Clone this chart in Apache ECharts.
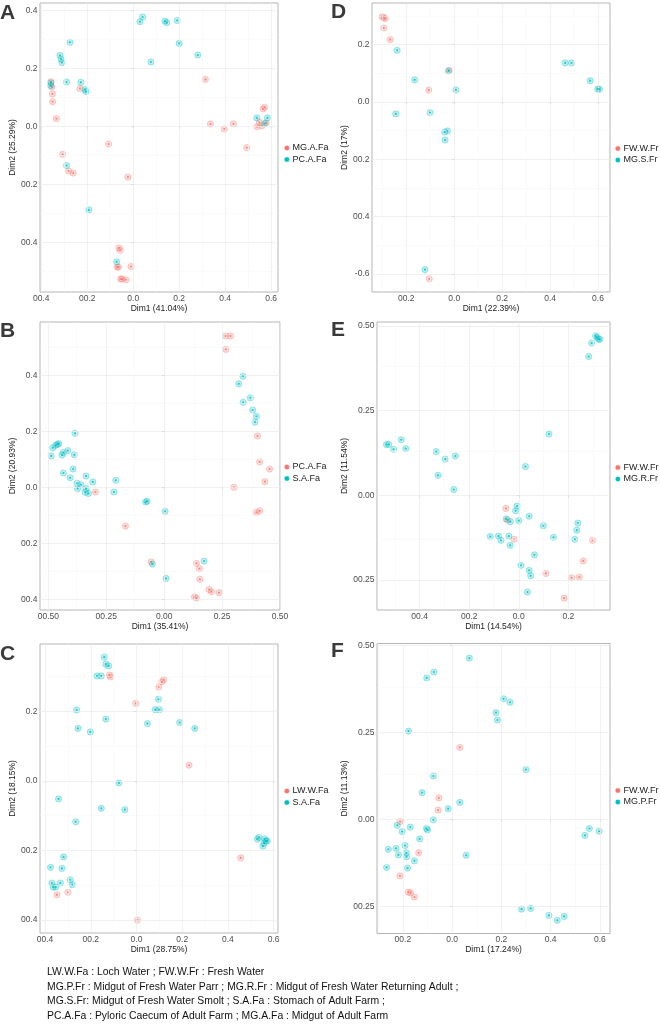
<!DOCTYPE html>
<html>
<head>
<meta charset="utf-8">
<script src="https://cdn.jsdelivr.net/npm/echarts@6/dist/echarts.min.js"></script>
<style>
html,body{margin:0;padding:0;background:#fff;}
#chart{width:660px;height:1024px;}
</style>
</head>
<body>
<div id="chart"></div>
<script>
// ---------------- DATA ----------------
const groupColors = ['#F8766D', '#00BFC4'];

// Panel A
const aGroups = ['MG.A.Fa', 'PC.A.Fa'];
const aRed = [[0.314,0.163],[0.336,0.009],[0.396,-0.008],[0.436,0.010],[0.494,-0.072],[0.539,0.0],[0.549,0.015],[0.559,0.003],[0.565,0.061],[0.572,0.067],[0.578,0.013],
  [-0.358,0.155],[-0.354,0.137],[-0.352,0.113],[-0.351,0.086],[-0.335,0.028],[-0.232,0.132],[-0.307,-0.095],[-0.281,-0.153],[-0.261,-0.160],[-0.107,-0.060],[-0.023,-0.174],
  [-0.062,-0.418],[-0.057,-0.426],[-0.070,-0.484],[-0.065,-0.484],[-0.055,-0.525],[-0.049,-0.525],[-0.032,-0.528],[-0.010,-0.482]];
const aTeal = [[0.041,0.378],[0.029,0.362],[0.138,0.364],[0.146,0.359],[0.191,0.366],[0.200,0.287],[0.077,0.223],[0.281,0.247],[-0.275,0.291],[-0.319,0.246],[-0.314,0.233],[-0.310,0.221],
  [-0.290,0.154],[-0.228,0.153],[-0.210,0.128],[-0.206,0.121],[-0.358,0.151],[-0.359,0.141],[-0.290,-0.134],[-0.193,-0.287],[-0.072,-0.466],[0.538,0.030],[0.584,0.030],[0.572,0.011]];
const aXTicks = [-0.4,-0.2,0,0.2,0.4,0.6];
const aXLabels = ['00.4','00.2','0.0','0.2','0.4','0.6'];
const aYTicks = [-0.4,-0.2,0,0.2,0.4];
const aYLabels = ['00.4','00.2','0.0','0.2','0.4'];

// Panel B
const bGroups = ['PC.A.Fa', 'S.A.Fa'];
const bRed = [[0.265,0.542],[0.287,0.542],[0.266,0.494],[0.403,0.184],[0.412,0.092],[0.455,0.066],[0.435,0.021],[0.301,0.001],[0.398,-0.089],[0.413,-0.083],
  [-0.297,-0.016],[-0.167,-0.138],[-0.056,-0.266],[0.139,-0.271],[0.152,-0.290],[0.154,-0.328],[0.194,-0.365],[0.204,-0.373],[0.237,-0.376],[0.131,-0.391],[0.139,-0.395]];
const bTeal = [[0.340,0.398],[0.322,0.371],[0.372,0.321],[0.341,0.305],[0.382,0.277],[0.398,0.255],[0.392,0.234],[0.172,-0.263],[-0.051,-0.274],[0.008,-0.325],[0.004,-0.085],
  [-0.080,-0.052],[-0.074,-0.049],[-0.209,0.026],[-0.217,-0.016],[-0.308,0.020],[-0.337,0.041],[-0.337,-0.004],[-0.341,-0.017],[-0.327,-0.021],[-0.376,0.015],[-0.359,0.010],
  [-0.374,-0.004],[-0.406,0.035],[-0.435,0.052],[-0.393,0.066],[-0.388,0.117],[-0.416,0.132],[-0.435,0.125],[-0.441,0.116],[-0.385,0.194],[-0.455,0.157],[-0.461,0.154],
  [-0.468,0.151],[-0.481,0.142],[-0.488,0.113]];
const bXTicks = [-0.5,-0.25,0,0.25,0.5];
const bXLabels = ['00.50','00.25','0.00','0.25','0.50'];
const bYTicks = [-0.4,-0.2,0,0.2,0.4];
const bYLabels = ['00.4','00.2','0.0','0.2','0.4'];

// Panel C
const cGroups = ['LW.W.Fa', 'S.A.Fa'];
const cRed = [[-0.118,0.305],[-0.114,0.299],[0.098,0.270],[0.111,0.285],[0.119,0.291],[-0.003,0.223],[0.230,0.045],[0.456,-0.222],[-0.300,-0.321],[-0.348,-0.328],[0.004,-0.401]];
const cTeal = [[-0.141,0.356],[-0.134,0.336],[-0.122,0.331],[-0.173,0.302],[-0.154,0.302],[0.096,0.235],[0.082,0.205],[0.100,0.205],[0.048,0.165],[0.189,0.168],[0.255,0.151],
  [-0.262,0.204],[-0.134,0.178],[-0.256,0.151],[-0.202,0.141],[-0.077,-0.006],[-0.341,-0.052],[-0.154,-0.079],[-0.051,-0.083],[-0.266,-0.118],
  [0.529,-0.168],[0.536,-0.163],[0.561,-0.167],[0.566,-0.173],[0.558,-0.179],[0.553,-0.188],[0.572,-0.173],
  [-0.319,-0.219],[-0.376,-0.249],[-0.326,-0.252],[-0.290,-0.285],[-0.281,-0.299],[-0.370,-0.294],[-0.333,-0.294],[-0.364,-0.306],[-0.354,-0.306]];
const cXTicks = [-0.4,-0.2,0,0.2,0.4,0.6];
const cXLabels = ['00.4','00.2','0.0','0.2','0.4','0.6'];
const cYTicks = [-0.4,-0.2,0,0.2];
const cYLabels = ['00.4','00.2','0.0','0.2'];

// Panel D
const dGroups = ['FW.W.Fr', 'MG.S.Fr'];
const dRed = [[-0.301,0.297],[-0.294,0.294],[-0.288,0.290],[-0.294,0.258],[-0.267,0.217],[-0.106,0.041],[-0.021,0.110],[-0.104,-0.617]];
const dTeal = [[-0.238,0.180],[-0.165,0.077],[-0.244,-0.042],[-0.101,-0.037],[-0.024,0.108],[0.007,0.042],[-0.040,-0.105],[-0.028,-0.101],[-0.038,-0.133],[-0.122,-0.585],
  [0.463,0.136],[0.489,0.136],[0.567,0.074],[0.599,0.045],[0.606,0.044]];
const dXTicks = [-0.2,0,0.2,0.4,0.6];
const dXLabels = ['00.2','0.0','0.2','0.4','0.6'];
const dYTicks = [-0.6,-0.4,-0.2,0,0.2];
const dYLabels = ['-0.6','00.4','00.2','0.0','0.2'];

// Panel E
const eGroups = ['FW.W.Fr', 'MG.R.Fr'];
const eRed = [[-0.052,-0.039],[-0.046,-0.073],[-0.019,-0.130],[0.297,-0.133],[0.260,-0.194],[0.109,-0.231],[0.213,-0.244],[0.244,-0.242],[0.183,-0.304]];
const eTeal = [[0.310,0.471],[0.314,0.467],[0.322,0.462],[0.327,0.460],[0.294,0.450],[0.282,0.410],[0.122,0.181],[-0.534,0.150],[-0.525,0.150],[-0.505,0.136],[-0.474,0.164],
  [-0.456,0.138],[-0.333,0.129],[-0.297,0.107],[-0.256,0.116],[-0.326,0.059],[-0.262,0.017],[0.027,0.085],[-0.007,-0.032],[-0.013,-0.046],[-0.051,-0.070],[-0.034,-0.078],
  [0.0,-0.075],[0.042,-0.062],[0.099,-0.090],[0.238,-0.082],[0.234,-0.103],[0.226,-0.130],[0.140,-0.124],[-0.115,-0.122],[-0.082,-0.121],[-0.072,-0.133],[-0.040,-0.121],
  [-0.035,-0.148],[0.063,-0.176],[0.009,-0.207],[0.042,-0.222],[0.048,-0.238],[0.035,-0.286]];
const eXTicks = [-0.4,-0.2,0,0.2];
const eXLabels = ['00.4','00.2','0.0','0.2'];
const eYTicks = [-0.25,0,0.25,0.5];
const eYLabels = ['00.25','0.00','0.25','0.50'];

// Panel F
const fGroups = ['FW.W.Fr', 'MG.P.Fr'];
const fRed = [[0.031,0.207],[-0.054,0.062],[-0.057,0.027],[-0.211,-0.006],[-0.136,-0.096],[-0.212,-0.162],[-0.178,-0.209],[-0.169,-0.211],[-0.153,-0.223]];
const fTeal = [[0.070,0.464],[-0.103,0.407],[-0.074,0.424],[0.209,0.347],[0.235,0.337],[0.178,0.307],[0.184,0.286],[-0.177,0.254],[0.300,0.143],[-0.076,0.125],[-0.122,0.077],
  [0.031,0.049],[-0.016,0.031],[-0.076,-0.001],[-0.104,-0.026],[-0.100,-0.030],[-0.170,-0.022],[-0.223,-0.017],[-0.203,-0.035],[-0.132,-0.056],[-0.191,-0.075],[-0.228,-0.083],
  [-0.259,-0.086],[-0.186,-0.096],[-0.185,-0.107],[-0.218,-0.102],[-0.153,-0.119],[-0.266,-0.138],[-0.181,-0.140],[0.057,-0.103],[0.539,-0.046],[0.557,-0.026],[0.597,-0.034],
  [0.282,-0.258],[0.319,-0.256],[0.393,-0.276],[0.427,-0.290],[0.455,-0.279]];
const fXTicks = [-0.2,0,0.2,0.4,0.6];
const fXLabels = ['00.2','0.0','0.2','0.4','0.6'];
const fYTicks = [-0.25,0,0.25,0.5];
const fYLabels = ['00.25','0.00','0.25','0.50'];

const panelLetters = ['A','B','C','D','E','F'];
const xTitles = ['Dim1 (41.04%)','Dim1 (35.41%)','Dim1 (28.75%)','Dim1 (22.39%)','Dim1 (14.54%)','Dim1 (17.24%)'];
const yTitles = ['Dim2 (25.29%)','Dim2 (20.93%)','Dim2 (18.15%)','Dim2 (17%)','Dim2 (11.54%)','Dim2 (11.13%)'];

const footerLines = [
  'LW.W.Fa : Loch Water ; FW.W.Fr : Fresh Water',
  'MG.P.Fr : Midgut of Fresh Water Parr ; MG.R.Fr : Midgut of Fresh Water Returning Adult ;',
  'MG.S.Fr: Midgut of Fresh Water Smolt ; S.A.Fa : Stomach of Adult Farm ;',
  'PC.A.Fa : Pyloric Caecum of Adult Farm ; MG.A.Fa : Midgut of Adult Farm'
];

// ---------------- LAYOUT ----------------
const FONT = 'Liberation Sans, Arial, Helvetica, sans-serif';
const panels = [
  {groups:aGroups, red:aRed, teal:aTeal, xt:aXTicks, xl:aXLabels, yt:aYTicks, yl:aYLabels,
   grid:{left:40,top:3,width:238,height:289}, xr:[-0.4057,0.630], yr:[-0.570,0.4264], yGap:19, legend:{left:284,top:143}, letter:{x:0,y:13}},
  {groups:bGroups, red:bRed, teal:bTeal, xt:bXTicks, xl:bXLabels, yt:bYTicks, yl:bYLabels,
   grid:{left:40,top:322,width:240,height:288}, xr:[-0.536,0.5], yr:[-0.438,0.592], yGap:19, legend:{left:284,top:462}, letter:{x:0,y:331}},
  {groups:cGroups, red:cRed, teal:cTeal, xt:cXTicks, xl:cXLabels, yt:cYTicks, yl:cYLabels,
   grid:{left:40,top:644,width:238,height:289}, xr:[-0.422,0.619], yr:[-0.438,0.394], yGap:19, legend:{left:284,top:786}, letter:{x:0,y:654}},
  {groups:dGroups, red:dRed, teal:dTeal, xt:dXTicks, xl:dXLabels, yt:dYTicks, yl:dYLabels,
   grid:{left:372,top:3,width:238,height:289}, xr:[-0.343,0.650], yr:[-0.663,0.345], yGap:21, legend:{left:615,top:143.5}, letter:{x:331,y:12}},
  {groups:eGroups, red:eRed, teal:eTeal, xt:eXTicks, xl:eXLabels, yt:eYTicks, yl:eYLabels,
   grid:{left:377,top:322,width:233,height:288}, xr:[-0.572,0.368], yr:[-0.339,0.512], yGap:24, legend:{left:615,top:462.5}, letter:{x:331,y:330}},
  {groups:fGroups, red:fRed, teal:fTeal, xt:fXTicks, xl:fXLabels, yt:fYTicks, yl:fYLabels,
   grid:{left:377,top:643.5,width:233,height:290}, xr:[-0.305,0.641], yr:[-0.328,0.506], yGap:24, legend:{left:615,top:785.5}, letter:{x:331,y:651}}
];

function rgba(hex, a){
  const n = parseInt(hex.slice(1),16);
  return `rgba(${(n>>16)&255},${(n>>8)&255},${n&255},${a})`;
}
function minorOf(ticks, range){
  const step = ticks[1]-ticks[0];
  const out = [];
  for (let i=0;i<ticks.length-1;i++) out.push((ticks[i]+ticks[i+1])/2);
  const lo = ticks[0]-step/2, hi = ticks[ticks.length-1]+step/2;
  if (lo > range[0]) out.unshift(lo);
  if (hi < range[1]) out.push(hi);
  return out;
}
function labelFor(ticks, labels){
  return function(v){
    for (let i=0;i<ticks.length;i++) if (Math.abs(ticks[i]-v) < 1e-6) return labels[i];
    return '';
  };
}

const grids = [], xAxes = [], yAxes = [], series = [], legends = [], graphics = [];
const majorStyle = {color:'#ebebeb', width:0.7, type:'solid'};
const minorStyle = {color:'#f4f4f4', width:0.5, type:'solid'};

panels.forEach((p, i) => {
  grids.push(Object.assign({show:true, borderColor:'#b5b5b5', borderWidth:1, backgroundColor:'#fff', containLabel:false, outerBoundsMode:'none'}, p.grid));
  const axisCommon = {
    type:'value', gridIndex:i, scale:true,
    axisLine:{show:false}, splitLine:{show:false},
    nameLocation:'middle',
    nameTextStyle:{fontSize:8.5, color:'#1a1a1a', fontFamily:FONT}
  };
  xAxes.push(Object.assign({}, axisCommon, {
    min:p.xr[0], max:p.xr[1], name:xTitles[i], nameGap:10,
    axisTick:{show:true, length:2, customValues:p.xt, lineStyle:{color:'#9a9a9a', width:0.8}},
    axisLabel:{customValues:p.xt, formatter:labelFor(p.xt,p.xl), fontSize:8.5, color:'#4d4d4d', margin:2, fontFamily:FONT, showMinLabel:true, showMaxLabel:true, hideOverlap:false}
  }));
  yAxes.push(Object.assign({}, axisCommon, {
    min:p.yr[0], max:p.yr[1], name:yTitles[i], nameGap:p.yGap, nameRotate:90,
    axisTick:{show:true, length:2, customValues:p.yt, lineStyle:{color:'#9a9a9a', width:0.8}},
    axisLabel:{customValues:p.yt, formatter:labelFor(p.yt,p.yl), fontSize:8.5, color:'#4d4d4d', margin:2.5, fontFamily:FONT, showMinLabel:true, showMaxLabel:true, hideOverlap:false}
  }));
  // gridlines via markLine
  const gl = [];
  minorOf(p.xt, p.xr).forEach(v => gl.push({xAxis:v, lineStyle:minorStyle}));
  minorOf(p.yt, p.yr).forEach(v => gl.push({yAxis:v, lineStyle:minorStyle}));
  p.xt.forEach(v => gl.push({xAxis:v, lineStyle:majorStyle}));
  p.yt.forEach(v => gl.push({yAxis:v, lineStyle:majorStyle}));
  series.push({
    type:'scatter', xAxisIndex:i, yAxisIndex:i, data:[], silent:true, z:1,
    markLine:{silent:true, symbol:['none','none'], label:{show:false}, animation:false, data:gl}
  });
  const key = panelLetters[i];
  [p.red, p.teal].forEach((pts, g) => {
    const c = groupColors[g];
    const name = key + '|' + p.groups[g];
    series.push({
      type:'scatter', name:name, xAxisIndex:i, yAxisIndex:i, data:pts, z:2+g*2,
      symbol:'circle', symbolSize:6.2,
      itemStyle:{color:rgba(c,0.3), borderColor:rgba(c,0.6), borderWidth:0.7}
    });
    series.push({
      type:'scatter', name:name, xAxisIndex:i, yAxisIndex:i, data:pts, z:3+g*2,
      symbol:'circle', symbolSize:2.2,
      itemStyle:{color:c}
    });
  });
  legends.push({
    orient:'vertical', left:p.legend.left, top:p.legend.top, padding:0, itemGap:1.5,
    itemWidth:4.5, itemHeight:4.5, icon:'circle', selectedMode:false,
    textStyle:{fontSize:9, color:'#1a1a1a', fontFamily:FONT, lineHeight:10, padding:[0,0,0,-1.5]},
    formatter: n => n.split('|')[1],
    data: p.groups.map((gname, g) => ({
      name:key + '|' + gname,
      itemStyle:{color:groupColors[g], borderColor:rgba(groupColors[g],0.35), borderWidth:1.2, opacity:1}
    }))
  });
  graphics.push({
    type:'text', x:p.letter.x, y:p.letter.y, z:10,
    style:{text:panelLetters[i], fontSize:21, fontWeight:'bold', fontFamily:FONT, fill:'#3a3a3a', verticalAlign:'middle', align:'left'}
  });
});

const footerY = [972, 987, 1001.5, 1016];
footerLines.forEach((t, k) => {
  graphics.push({
    type:'text', x:47, y:footerY[k], z:10,
    style:{text:t, fontSize:10.4, fontFamily:FONT, fill:'#111', verticalAlign:'middle', align:'left'}
  });
});

const chart = echarts.init(document.getElementById('chart'), null, {renderer:'canvas'});
chart.setOption({
  animation:false,
  backgroundColor:'#ffffff',
  textStyle:{fontFamily:FONT},
  grid:grids, xAxis:xAxes, yAxis:yAxes, series:series, legend:legends, graphic:graphics
});
</script>
</body>
</html>
